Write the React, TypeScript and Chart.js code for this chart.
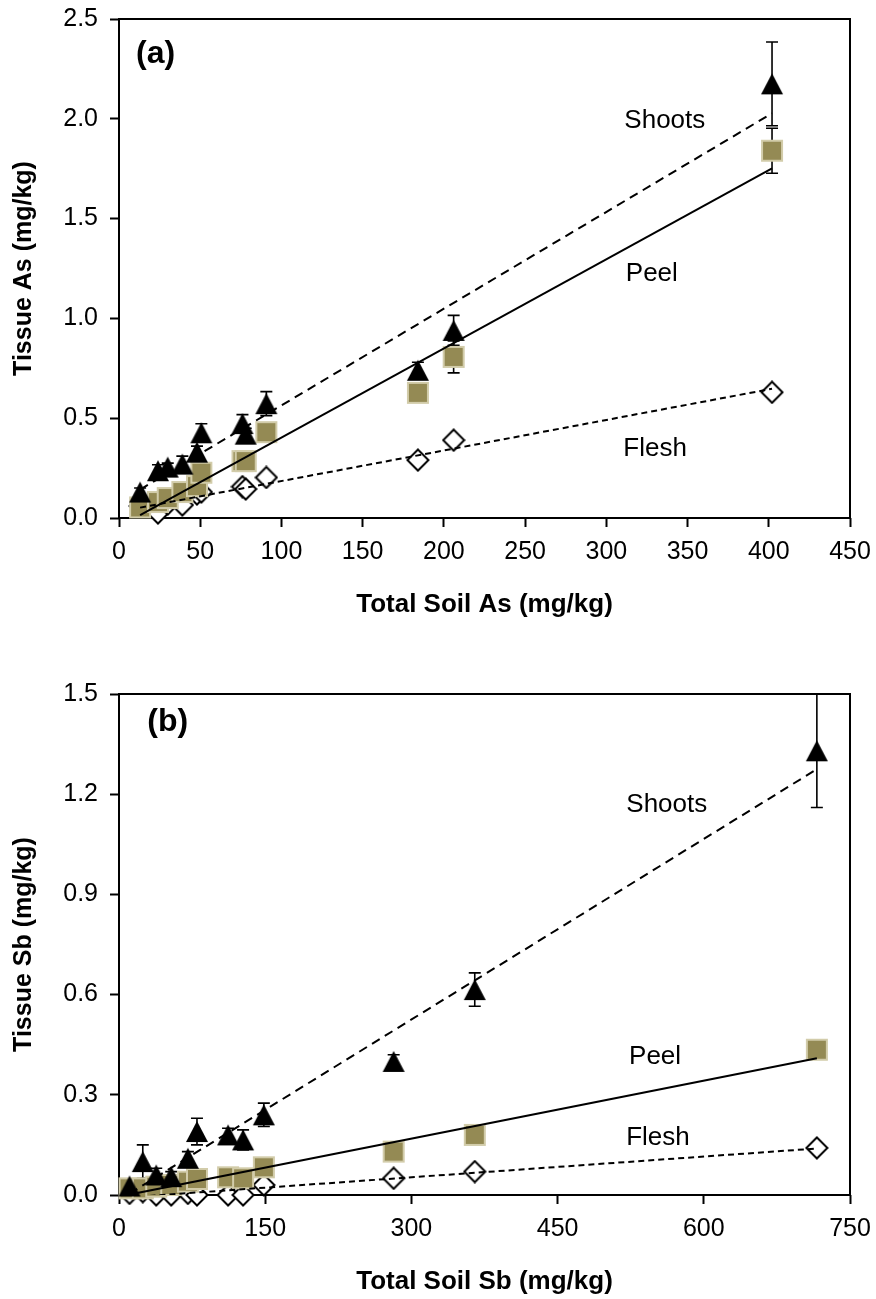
import { useEffect, useRef } from 'react';
import { Chart, registerables } from 'chart.js';

Chart.register(...registerables);

const FONT = "'Liberation Sans', Arial, Helvetica, sans-serif";
Chart.defaults.font.family = FONT;
Chart.defaults.color = '#000';

// ---- Arsenic: total soil As vs tissue As (mg/kg) ----
const soilAs = [13, 24, 30, 39, 48, 50.7, 76, 78, 90.7, 184, 206, 402];
const shootsAs = [0.13, 0.237, 0.255, 0.27, 0.33, 0.427, 0.473, 0.42, 0.573, 0.74, 0.94, 2.175];
const shootsAsErr = [0.02, 0.03, 0.02, 0.04, 0.03, 0.045, 0.045, 0.03, 0.06, 0.04, 0.075, 0.21];
const peelAs = [0.053, 0.08, 0.1, 0.13, 0.16, 0.227, 0.285, 0.285, 0.43, 0.627, 0.807, 1.84];
const peelAsErr = [0.01, 0.01, 0.01, 0.015, 0.015, 0.02, 0.02, 0.02, 0.02, 0.02, 0.08, 0.113];
const fleshAs = [0.06, 0.025, 0.07, 0.065, 0.12, 0.13, 0.157, 0.145, 0.203, 0.29, 0.39, 0.63];

// ---- Antimony: total soil Sb vs tissue Sb (mg/kg) ----
const soilSb = [10.8, 24.4, 38.2, 53.6, 70.7, 80, 111.9, 127.3, 148.6, 281.8, 365, 716];
const shootsSb = [0.027, 0.1, 0.06, 0.055, 0.11, 0.19, 0.18, 0.165, 0.24, 0.4, 0.615, 1.33];
const shootsSbErr = [0.01, 0.05, 0.02, 0.015, 0.02, 0.04, 0.02, 0.03, 0.035, 0.02, 0.05, 0.17];
const peelSb = [0.02, 0.02, 0.025, 0.03, 0.04, 0.048, 0.053, 0.05, 0.083, 0.13, 0.18, 0.435];
const peelSbErr = [0.005, 0.005, 0.005, 0.005, 0.005, 0.008, 0.008, 0.008, 0.01, 0.01, 0.012, 0.01];
const fleshSb = [0.005, 0.01, 0, 0, 0.005, 0, 0, 0, 0.03, 0.05, 0.07, 0.141];

// axis ticks
const xTicksAs = { max: 450, step: 50 };
const yTicksAs = { max: 2.5, step: 0.5 };
const xTicksSb = { max: 750, step: 150 };
const yTicksSb = { max: 1.5, step: 0.3 };

type Pt = { x: number; y: number };
const pts = (xs: number[], ys: number[]): Pt[] => xs.map((x, i) => ({ x, y: ys[i] }));

// least-squares linear trend drawn across the range of the data
function trend(xs: number[], ys: number[]): Pt[] {
  const n = xs.length;
  const mx = xs.reduce((s, v) => s + v, 0) / n;
  const my = ys.reduce((s, v) => s + v, 0) / n;
  let sxy = 0;
  let sxx = 0;
  xs.forEach((x, i) => {
    sxy += (x - mx) * (ys[i] - my);
    sxx += (x - mx) * (x - mx);
  });
  const b = sxy / sxx;
  const a = my - b * mx;
  const x0 = Math.min(...xs);
  const x1 = Math.max(...xs);
  return [
    { x: x0, y: a + b * x0 },
    { x: x1, y: a + b * x1 },
  ];
}

const OLIVE = '#948A54';
const OLIVE_EDGE = '#D2CCAA';

function marker(kind: 'triangle' | 'square' | 'diamond'): HTMLCanvasElement {
  const c = document.createElement('canvas');
  const ctx = c.getContext('2d')!;
  if (kind === 'triangle') {
    c.width = 24;
    c.height = 23;
    ctx.fillStyle = '#000';
    ctx.beginPath();
    ctx.moveTo(12, 1);
    ctx.lineTo(23, 22);
    ctx.lineTo(1, 22);
    ctx.closePath();
    ctx.fill();
  } else if (kind === 'square') {
    c.width = 24;
    c.height = 24;
    ctx.fillStyle = OLIVE_EDGE;
    ctx.fillRect(1, 1, 22, 22);
    ctx.fillStyle = OLIVE;
    ctx.fillRect(3, 3, 18, 18);
  } else {
    c.width = 24;
    c.height = 24;
    ctx.beginPath();
    ctx.moveTo(12, 1.5);
    ctx.lineTo(22.5, 12);
    ctx.lineTo(12, 22.5);
    ctx.lineTo(1.5, 12);
    ctx.closePath();
    ctx.fillStyle = '#fff';
    ctx.fill();
    ctx.strokeStyle = '#000';
    ctx.lineWidth = 2;
    ctx.stroke();
  }
  return c;
}

// plot frame (under the markers)
const framePlugin = {
  id: 'plotFrame',
  beforeDatasetsDraw(chart: any) {
    const { ctx, chartArea: a } = chart;
    ctx.save();
    ctx.strokeStyle = '#000';
    ctx.lineWidth = 2;
    ctx.strokeRect(a.left, a.top, a.right - a.left, a.bottom - a.top);
    ctx.restore();
  },
};

// vertical error bars with caps, drawn beneath the markers
const errorBarPlugin = {
  id: 'errorBars',
  beforeDatasetsDraw(chart: any, _args: any, opts: any) {
    const { ctx } = chart;
    const xs = chart.scales.x;
    const ys = chart.scales.y;
    ctx.save();
    ctx.strokeStyle = '#000';
    ctx.lineWidth = 1.6;
    for (const set of opts.sets || []) {
      const data = chart.data.datasets[set.index].data as Pt[];
      data.forEach((p, i) => {
        const e = set.errors[i];
        if (!e) return;
        const px = xs.getPixelForValue(p.x);
        const t = ys.getPixelForValue(p.y + e);
        const b = ys.getPixelForValue(p.y - e);
        ctx.beginPath();
        ctx.moveTo(px, t);
        ctx.lineTo(px, b);
        ctx.moveTo(px - 6, t);
        ctx.lineTo(px + 6, t);
        ctx.moveTo(px - 6, b);
        ctx.lineTo(px + 6, b);
        ctx.stroke();
      });
    }
    ctx.restore();
  },
};

const textPlugin = {
  id: 'seriesText',
  afterDraw(chart: any, _args: any, opts: any) {
    const { ctx } = chart;
    const xs = chart.scales.x;
    const ys = chart.scales.y;
    ctx.save();
    ctx.fillStyle = '#000';
    ctx.textAlign = 'center';
    ctx.textBaseline = 'middle';
    for (const l of opts.items || []) {
      ctx.font = `${l.bold ? 'bold ' : ''}${l.size}px ${FONT}`;
      ctx.fillText(l.text, xs.getPixelForValue(l.x), ys.getPixelForValue(l.y));
    }
    ctx.restore();
  },
};

type PanelSpec = {
  xs: number[];
  shoots: number[];
  shootsErr: number[];
  peel: number[];
  peelErr: number[];
  flesh: number[];
  xTicks: { max: number; step: number };
  yTicks: { max: number; step: number };
  xTitle: string;
  yTitle: string;
  texts: { text: string; x: number; y: number; size: number; bold?: boolean }[];
  height: number;
  top: number;
  bottom: number;
  xTitlePad: number;
};

function buildConfig(p: PanelSpec, tri: HTMLCanvasElement, sq: HTMLCanvasElement, dia: HTMLCanvasElement): any {
  const lineDs = (data: Pt[], dash: number[]) => ({
    data,
    showLine: true,
    borderColor: '#000',
    borderWidth: 2,
    borderDash: dash,
    pointRadius: 0,
    pointHoverRadius: 0,
    fill: false,
  });
  const markDs = (data: Pt[], style: HTMLCanvasElement) => ({
    data,
    showLine: false,
    pointStyle: style,
    pointRadius: 11,
    pointHoverRadius: 11,
    clip: false,
  });
  return {
    type: 'scatter',
    data: {
      datasets: [
        lineDs(trend(p.xs, p.shoots), [9, 6]),
        lineDs(trend(p.xs, p.peel), []),
        lineDs(trend(p.xs, p.flesh), [6, 4]),
        markDs(pts(p.xs, p.shoots), tri),
        markDs(pts(p.xs, p.peel), sq),
        markDs(pts(p.xs, p.flesh), dia),
      ],
    },
    options: {
      responsive: false,
      animation: false,
      devicePixelRatio: 1,
      events: [],
      layout: { padding: { left: 0, right: 26, top: p.top, bottom: 0 } },
      plugins: {
        legend: { display: false },
        tooltip: { enabled: false },
        errorBars: {
          sets: [
            { index: 3, errors: p.shootsErr },
            { index: 4, errors: p.peelErr },
          ],
        },
        seriesText: { items: p.texts },
      },
      scales: {
        x: {
          type: 'linear',
          min: 0,
          max: p.xTicks.max,
          afterFit: (s: any) => {
            s.height = p.height - p.bottom;
            s.paddingLeft = 0;
            s.paddingRight = 0;
          },
          border: { display: false },
          grid: { display: true, drawOnChartArea: false, drawTicks: true, tickLength: 9, tickWidth: 2, tickColor: '#000', color: '#000' },
          ticks: {
            stepSize: p.xTicks.step,
            autoSkip: false,
            maxRotation: 0,
            padding: 10,
            color: '#000',
            font: { size: 25, family: FONT },
            callback: (v: any) => String(Math.round(Number(v))),
          },
          title: {
            display: true,
            text: p.xTitle,
            color: '#000',
            font: { size: 26, weight: 'bold', family: FONT, lineHeight: 1.2 },
            padding: { top: 0, bottom: p.xTitlePad },
          },
        },
        y: {
          type: 'linear',
          min: 0,
          max: p.yTicks.max,
          afterFit: (s: any) => {
            s.width = 119;
            s.paddingTop = 0;
            s.paddingBottom = 0;
          },
          border: { display: false },
          grid: { display: true, drawOnChartArea: false, drawTicks: true, tickLength: 9, tickWidth: 2, tickColor: '#000', color: '#000' },
          ticks: {
            stepSize: p.yTicks.step,
            autoSkip: false,
            padding: 12,
            color: '#000',
            font: { size: 25, family: FONT },
            callback: (v: any) => Number(v).toFixed(1),
          },
          title: {
            display: true,
            text: p.yTitle,
            color: '#000',
            font: { size: 25, weight: 'bold', family: FONT, lineHeight: 1.2 },
            padding: { top: 9, bottom: 0 },
          },
        },
      },
    },
    plugins: [framePlugin, errorBarPlugin, textPlugin],
  };
}

const panelAs: PanelSpec = {
  xs: soilAs,
  shoots: shootsAs,
  shootsErr: shootsAsErr,
  peel: peelAs,
  peelErr: peelAsErr,
  flesh: fleshAs,
  xTicks: xTicksAs,
  yTicks: yTicksAs,
  xTitle: 'Total Soil As (mg/kg)',
  yTitle: 'Tissue As (mg/kg)',
  texts: [
    { text: '(a)', x: 22.5, y: 2.325, size: 32, bold: true },
    { text: 'Shoots', x: 336, y: 1.99, size: 26 },
    { text: 'Peel', x: 328, y: 1.225, size: 26 },
    { text: 'Flesh', x: 330, y: 0.345, size: 26 },
  ],
  height: 650,
  top: 19,
  bottom: 518,
  xTitlePad: 30,
};

const panelSb: PanelSpec = {
  xs: soilSb,
  shoots: shootsSb,
  shootsErr: shootsSbErr,
  peel: peelSb,
  peelErr: peelSbErr,
  flesh: fleshSb,
  xTicks: xTicksSb,
  yTicks: yTicksSb,
  xTitle: 'Total Soil Sb (mg/kg)',
  yTitle: 'Tissue Sb (mg/kg)',
  texts: [
    { text: '(b)', x: 50, y: 1.416, size: 32, bold: true },
    { text: 'Shoots', x: 562, y: 1.167, size: 26 },
    { text: 'Peel', x: 550, y: 0.414, size: 26 },
    { text: 'Flesh', x: 553, y: 0.171, size: 26 },
  ],
  height: 649,
  top: 44,
  bottom: 545,
  xTitlePad: 2,
};

function Panel({ spec }: { spec: PanelSpec }) {
  const ref = useRef<HTMLCanvasElement>(null);
  useEffect(() => {
    if (!ref.current) return;
    const chart = new Chart(ref.current, buildConfig(spec, marker('triangle'), marker('square'), marker('diamond')));
    return () => chart.destroy();
  }, [spec]);
  return <canvas ref={ref} width={876} height={spec.height} style={{ display: 'block', width: 876, height: spec.height }} />;
}

export default function App() {
  useEffect(() => {
    document.body.style.margin = '0';
    document.body.style.background = '#fff';
  }, []);
  return (
    <div style={{ width: 876, background: '#fff' }}>
      <Panel spec={panelAs} />
      <Panel spec={panelSb} />
    </div>
  );
}
